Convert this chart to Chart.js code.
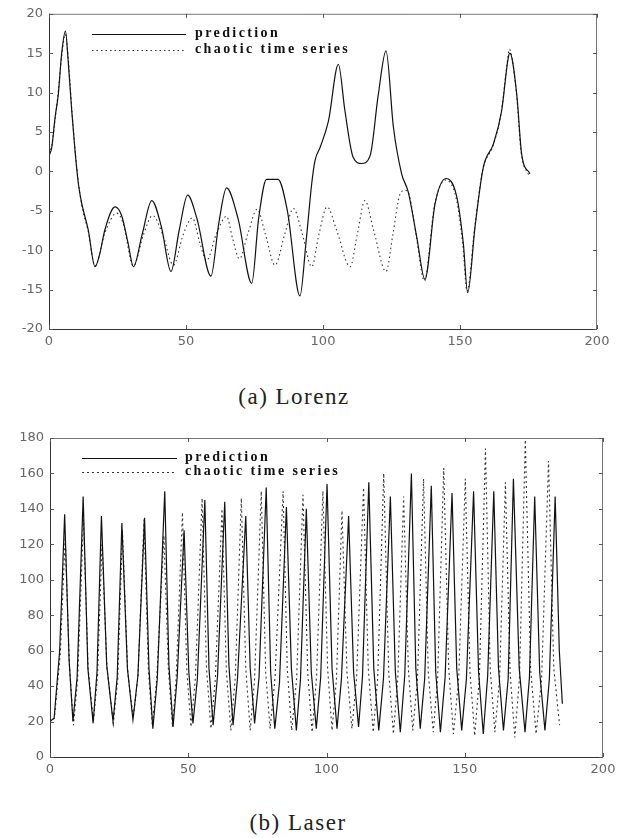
<!DOCTYPE html>
<html>
<head>
<meta charset="utf-8">
<script src="https://cdn.jsdelivr.net/npm/chart.js@4.4.1/dist/chart.umd.min.js"></script>
<style>
  body { margin: 0; background: #fff; width: 631px; height: 838px; position: relative; overflow: hidden; }
  canvas { position: absolute; left: 0; }
  #lorenzChart { top: 0; }
  #laserChart { top: 420px; }
  .caption {
    position: absolute; transform: translate(-50%, -50%);
    font-family: "Liberation Serif", "Times New Roman", serif;
    font-size: 23px; letter-spacing: 1.5px; color: #222; white-space: nowrap;
  }
</style>
</head>
<body>
<canvas id="lorenzChart" width="631" height="360"></canvas>
<canvas id="laserChart" width="631" height="380"></canvas>
<div class="caption" style="left:294px; top:397px;">(a) Lorenz</div>
<div class="caption" style="left:298px; top:823px;">(b) Laser</div>

<script>
// (a) Lorenz: predicted vs. real series
const lorenzPredX = [0, 1, 2.2, 3.4, 4.6, 6.0, 7.0, 8.3, 9.5, 10.7, 11.9, 14.3, 16.8, 18.5, 20.4, 24.1, 26.5, 28.8, 30.8, 34.0,
  37.5, 41.0, 44.5, 47.5, 50.6, 54.0, 59.1, 62.0, 64.8, 69.0, 74.0, 76.5, 79.4, 83.6, 87.0, 91.6, 93.8, 95.9, 97.1, 99.0,
  102.0, 105.6, 108.0, 111.0, 114.1, 117.2, 120.2, 123.0, 125.7, 128.7, 131.1, 134.2, 137.2, 140.9, 144.9, 148.8, 151.2, 152.8, 155.5, 158.5,
  162.2, 165.2, 167.6, 168.2, 170.7, 172.5, 175.5];
const lorenzPredY = [2.0, 3.0, 6.8, 9.8, 14.9, 17.8, 14.0, 7.7, 2.6, -1.5, -4.0, -7.4, -12.1, -10.5, -7.4, -4.5, -5.6, -9.0, -12.1, -8.0,
  -3.7, -7.0, -12.7, -7.5, -3.0, -6.0, -13.3, -6.5, -2.1, -6.0, -14.2, -6.0, -1.0, -1.0, -5.0, -15.8, -9.0, -1.5, 1.4, 3.1,
  6.4, 13.6, 7.7, 1.8, 1.0, 2.0, 9.8, 15.3, 5.6, -0.3, -2.6, -8.3, -13.7, -4.1, -0.9, -3.2, -9.1, -15.4, -7.0, 0.5,
  3.5, 7.7, 14.4, 15.0, 9.8, 2.2, -0.3];

const lorenzTrueX = [0, 1, 2.2, 3.4, 4.6, 6.0, 7.0, 8.3, 9.5, 10.7, 11.9, 14.3, 16.8, 20.4, 24.7, 27.0, 30.8, 34.5, 37.8, 41.5,
  45.4, 49.0, 52.3, 55.0, 57.5, 61.0, 64.8, 67.0, 69.5, 72.5, 76.0, 79.0, 82.5, 86.0, 89.2, 92.5, 95.9, 98.5, 101.5, 105.0,
  109.9, 112.5, 115.3, 118.5, 123.0, 125.5, 128.0, 130.0, 131.5, 134.2, 137.0, 140.7, 144.7, 148.6, 151.0, 152.6, 155.3, 158.3, 162.0, 165.0,
  167.3, 168.0, 170.5, 172.3, 175.2];
const lorenzTrueY = [2.2, 3.3, 6.5, 10.2, 14.5, 17.4, 14.5, 8.0, 2.8, -1.3, -4.2, -7.6, -12.0, -7.8, -5.3, -6.5, -12.0, -8.0, -5.6, -8.0,
  -11.9, -8.0, -5.9, -9.0, -11.3, -8.0, -5.7, -8.5, -11.1, -8.0, -4.8, -8.0, -11.9, -8.0, -4.7, -8.0, -12.1, -8.0, -4.5, -7.5,
  -12.1, -8.0, -3.7, -7.5, -12.7, -8.0, -3.0, -2.4, -3.0, -8.6, -13.9, -4.3, -1.1, -3.4, -9.3, -15.2, -7.3, 0.2, 3.2, 7.4,
  14.0, 15.5, 10.3, 2.5, -0.6];

// (b) Laser: predicted vs. real series
const laserPredX = [0, 1.5, 3.5, 5.3, 6.9, 8.3,
  9.8, 12.0, 13.7, 15.6, 17.0, 18.6, 20.5, 22.8, 24.3, 26.0, 28.0, 30.0, 31.8, 34.2, 35.8, 37.2,
  38.8, 41.5, 43.0, 44.5, 46.0, 48.5, 50.2, 51.7, 53.3, 56.0, 57.5, 59.0, 60.6, 63.2, 64.7, 66.2,
  67.8, 70.8, 72.4, 74.0, 75.6, 78.2, 79.8, 81.3, 83.0, 85.5, 87.3, 89.1, 90.6, 92.7, 94.5, 96.3,
  97.9, 100.2, 102.0, 103.8, 105.4, 108.0, 109.8, 111.6, 113.0, 115.3, 117.1, 118.9, 120.6, 123.1, 124.9, 126.7,
  128.3, 130.7, 132.3, 133.9, 135.5, 137.9, 139.5, 141.2, 142.9, 145.4, 147.1, 148.9, 150.6, 153.2, 155.0, 156.7,
  158.3, 160.5, 162.2, 164.0, 165.7, 167.6, 169.7, 171.8, 173.4, 175.3, 177.1, 179.0, 180.6, 182.7, 184.2, 185.3];
const laserPredY = [20, 22, 60, 137, 55, 20,
  45, 147, 50, 19, 48, 136, 52, 20, 45, 132, 50, 21, 46, 135, 50, 16,
  44, 150, 52, 17, 45, 128, 48, 19, 44, 145, 50, 18, 46, 144, 52, 18,
  44, 136, 50, 19, 45, 152, 48, 16, 42, 141, 50, 15, 44, 140, 48, 16,
  45, 154, 50, 16, 44, 136, 48, 17, 45, 155, 50, 15, 44, 147, 48, 14,
  46, 160, 50, 16, 44, 153, 48, 14, 45, 149, 50, 15, 44, 150, 48, 13,
  46, 150, 50, 15, 44, 157, 50, 14, 45, 147, 48, 15, 44, 147, 60, 30];

const laserTrueX = [0, 1.6, 3.7, 5.5, 7.0, 8.5,
  10.0, 12.1, 13.8, 15.7, 17.2, 18.8, 20.6, 22.9, 24.5, 26.2, 28.1, 30.1, 31.8, 34.0, 35.6, 37.0,
  38.6, 41.2, 42.8, 44.3, 45.6, 47.9, 49.5, 51.0, 52.6, 55.0, 56.6, 58.2, 59.8, 62.2, 63.8, 65.4,
  67.0, 69.2, 70.8, 72.4, 74.0, 76.4, 78.0, 79.6, 81.4, 84.3, 85.8, 87.4, 89.2, 91.5, 93.2, 94.8,
  96.4, 98.7, 100.4, 102.0, 103.6, 105.6, 107.4, 109.2, 110.9, 113.4, 115.1, 116.9, 118.5, 120.7, 122.5, 124.2,
  125.8, 127.9, 129.6, 131.2, 132.9, 135.1, 136.8, 138.6, 140.2, 142.4, 144.2, 145.9, 147.8, 150.2, 151.9, 153.6,
  155.3, 157.5, 159.2, 160.9, 162.6, 164.7, 166.4, 168.1, 169.8, 171.9, 173.8, 175.8, 177.8, 180.3, 182.2, 184.3];
const laserTrueY = [19, 22, 58, 124, 52, 18,
  44, 134, 50, 20, 46, 120, 50, 19, 44, 128, 48, 22, 45, 134, 48, 18,
  44, 125, 50, 17, 44, 138, 48, 17, 45, 146, 50, 16, 44, 140, 48, 15,
  45, 146, 50, 15, 44, 150, 48, 16, 45, 150, 50, 15, 44, 148, 48, 14,
  45, 150, 50, 15, 44, 139, 48, 16, 45, 152, 50, 14, 44, 160, 48, 13,
  45, 147, 50, 15, 44, 157, 48, 14, 45, 163, 50, 13, 44, 157, 48, 12,
  45, 174, 50, 14, 44, 155, 48, 11, 45, 179, 50, 13, 44, 167, 50, 18];

const seriesLabels = ['prediction', 'chaotic time series'];

const toPoints = (xs, ys) => xs.map((x, i) => ({ x: x, y: ys[i] }));

// closed box with short inward ticks on all four sides
const frameTicks = {
  id: 'frameTicks',
  afterDraw(chart) {
    const { ctx, chartArea: a, scales: { x, y } } = chart;
    ctx.save();
    ctx.lineWidth = 1;
    ctx.strokeStyle = '#333';
    ctx.beginPath();
    ctx.moveTo(a.left + 0.5, a.top);
    ctx.lineTo(a.left + 0.5, a.bottom + 0.5);
    ctx.lineTo(a.right, a.bottom + 0.5);
    ctx.stroke();
    ctx.strokeStyle = '#777';
    ctx.beginPath();
    ctx.moveTo(a.left, a.top + 0.5);
    ctx.lineTo(a.right - 0.5, a.top + 0.5);
    ctx.lineTo(a.right - 0.5, a.bottom);
    ctx.stroke();
    ctx.strokeStyle = '#555';
    ctx.beginPath();
    x.ticks.forEach(t => {
      const px = Math.round(x.getPixelForValue(t.value)) + 0.5;
      ctx.moveTo(px, a.bottom); ctx.lineTo(px, a.bottom - 4);
      ctx.moveTo(px, a.top); ctx.lineTo(px, a.top + 4);
    });
    y.ticks.forEach(t => {
      const py = Math.round(y.getPixelForValue(t.value)) + 0.5;
      ctx.moveTo(a.left, py); ctx.lineTo(a.left + 4, py);
      ctx.moveTo(a.right, py); ctx.lineTo(a.right - 4, py);
    });
    ctx.stroke();
    ctx.restore();
  }
};

// legend sample lines and labels written inside the plot area
const inlineLegend = {
  id: 'inlineLegend',
  afterDatasetsDraw(chart, args, opts) {
    const ctx = chart.ctx;
    ctx.save();
    chart.data.datasets.forEach((ds, i) => {
      const ly = opts.rows[i] + 0.5;
      ctx.strokeStyle = ds.borderColor;
      ctx.lineWidth = 1;
      ctx.setLineDash(ds.borderDash || []);
      ctx.beginPath();
      ctx.moveTo(opts.lineFrom, ly);
      ctx.lineTo(opts.lineTo, ly);
      ctx.stroke();
      ctx.setLineDash([]);
      ctx.fillStyle = '#111';
      ctx.font = 'bold 14px "Liberation Serif", serif';
      ctx.letterSpacing = '2.4px';
      ctx.textBaseline = 'middle';
      ctx.fillText(ds.label, opts.textX, ly - 1);
    });
    ctx.restore();
  }
};

const tickFont = { family: '"DejaVu Sans", sans-serif', size: 13 };

function buildChart(id, cfg) {
  return new Chart(document.getElementById(id), {
    type: 'line',
    data: {
      datasets: [{
        label: seriesLabels[0],
        data: toPoints(cfg.predX, cfg.predY),
        borderColor: '#111',
        borderWidth: 1.2,
        pointRadius: 0,
        cubicInterpolationMode: cfg.smooth ? 'monotone' : 'default',
        tension: 0
      }, {
        label: seriesLabels[1],
        data: toPoints(cfg.trueX, cfg.trueY),
        borderColor: '#333',
        borderWidth: 1.1,
        borderDash: cfg.dash,
        pointRadius: 0,
        cubicInterpolationMode: cfg.smooth ? 'monotone' : 'default',
        tension: 0
      }]
    },
    options: {
      responsive: false,
      animation: false,
      layout: { padding: cfg.padding },
      plugins: {
        legend: { display: false },
        tooltip: { enabled: false },
        inlineLegend: cfg.legend
      },
      scales: {
        x: {
          type: 'linear',
          min: 0, max: 200,
          grid: { display: false, drawTicks: false },
          border: { display: false },
          ticks: { stepSize: 50, padding: 5, color: '#666', font: tickFont, maxRotation: 0 },
          afterFit: s => { s.height = cfg.xHeight; }
        },
        y: {
          min: cfg.yMin, max: cfg.yMax,
          grid: { display: false, drawTicks: false },
          border: { display: false },
          ticks: { stepSize: cfg.yStep, padding: 6, color: '#666', font: tickFont },
          afterFit: s => { s.width = cfg.yWidth; }
        }
      }
    },
    plugins: [frameTicks, inlineLegend]
  });
}

buildChart('lorenzChart', {
  predX: lorenzPredX, predY: lorenzPredY,
  trueX: lorenzTrueX, trueY: lorenzTrueY,
  smooth: true, dash: [1.5, 3],
  yMin: -20, yMax: 20, yStep: 5,
  padding: { top: 12, right: 34, left: 0, bottom: 0 },
  yWidth: 49, xHeight: 31,
  legend: { lineFrom: 92, lineTo: 186, rows: [34, 50], textX: 195 }
});

buildChart('laserChart', {
  predX: laserPredX, predY: laserPredY,
  trueX: laserTrueX, trueY: laserTrueY,
  smooth: false, dash: [2, 3],
  yMin: 0, yMax: 180, yStep: 20,
  padding: { top: 18, right: 28, left: 0, bottom: 0 },
  yWidth: 50, xHeight: 43,
  legend: { lineFrom: 82, lineTo: 177, rows: [38, 52], textX: 185 }
});
</script>
</body>
</html>
